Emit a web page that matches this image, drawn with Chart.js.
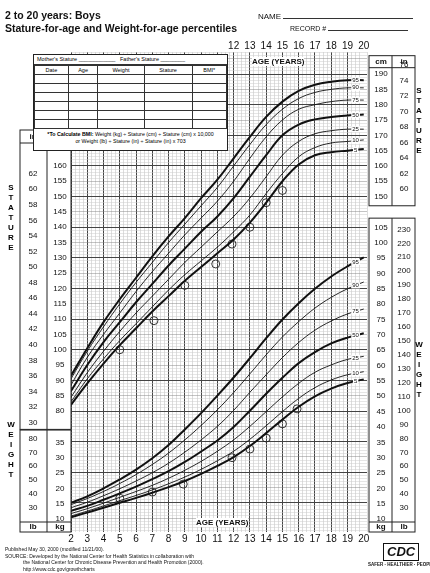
<!DOCTYPE html><html><head><meta charset="utf-8">
<script src="https://cdn.jsdelivr.net/npm/chart.js@4.4.0/dist/chart.umd.min.js"></script>
<style>
body{margin:0;width:430px;height:573px;overflow:hidden;background:#fff;font-family:"Liberation Sans",Arial,sans-serif;}
#wrap{position:absolute;left:0;top:0;width:430px;height:573px}
.t{position:absolute;white-space:nowrap;color:#111}
.box{position:absolute;left:33px;top:54px;width:193px;height:95px;background:#fff;border:1px solid #222;font-size:5.5px;overflow:hidden}
.box table{border-collapse:collapse;width:100%}
.box td{border:1px solid #333;height:8px;padding:0 1px;text-align:center}
.vert{position:absolute;font-weight:bold;font-size:8px;line-height:10px;width:10px;text-align:center}
</style></head><body>
<div id="wrap"><canvas id="c" width="430" height="573"></canvas></div>
<div class="t" style="left:5px;top:9px;font-size:10.5px;font-weight:bold">2 to 20 years: Boys</div>
<div class="t" style="left:5px;top:22px;font-size:10.5px;font-weight:bold">Stature-for-age and Weight-for-age percentiles</div>
<div class="t" style="left:258px;top:12px;font-size:8px">NAME <span style="display:inline-block;width:130px;border-bottom:1px solid #333"></span></div>
<div class="t" style="left:290px;top:25px;font-size:7px">RECORD # <span style="display:inline-block;width:80px;border-bottom:1px solid #333"></span></div>
<div class="box">
<div style="padding:1px 3px;height:7px;border-bottom:1px solid #333">Mother's Stature ____________ &nbsp; Father's Stature ________</div>
<table><tr><td>Date</td><td>Age</td><td>Weight</td><td>Stature</td><td>BMI*</td></tr>
<tr><td></td><td></td><td></td><td></td><td></td></tr><tr><td></td><td></td><td></td><td></td><td></td></tr>
<tr><td></td><td></td><td></td><td></td><td></td></tr><tr><td></td><td></td><td></td><td></td><td></td></tr>
<tr><td></td><td></td><td></td><td></td><td></td></tr><tr><td></td><td></td><td></td><td></td><td></td></tr>
</table>
<div style="font-size:5.3px;padding:2px 1px;text-align:center;line-height:7px"><b>*To Calculate BMI:</b> Weight (kg) ÷ Stature (cm) ÷ Stature (cm) x 10,000<br>or Weight (lb) ÷ Stature (in) ÷ Stature (in) x 703</div>
</div>
<div class="t" style="left:252px;top:57px;font-size:8px;font-weight:bold;background:#fff">AGE (YEARS)</div>
<div class="t" style="left:196px;top:518px;font-size:8px;font-weight:bold;background:#fff">AGE (YEARS)</div>
<div class="vert" style="left:6px;top:183px">S<br>T<br>A<br>T<br>U<br>R<br>E</div>
<div class="vert" style="left:6px;top:420px">W<br>E<br>I<br>G<br>H<br>T</div>
<div class="vert" style="left:414px;top:86px">S<br>T<br>A<br>T<br>U<br>R<br>E</div>
<div class="vert" style="left:414px;top:340px">W<br>E<br>I<br>G<br>H<br>T</div>
<div class="t" style="left:5px;top:546px;font-size:5px;line-height:6.5px">Published May 30, 2000 (modified 11/21/00).<br>SOURCE: Developed by the National Center for Health Statistics in collaboration with<br>&nbsp;&nbsp;&nbsp;&nbsp;&nbsp;&nbsp;&nbsp;&nbsp;&nbsp;&nbsp;&nbsp;&nbsp;&nbsp;the National Center for Chronic Disease Prevention and Health Promotion (2000).<br>&nbsp;&nbsp;&nbsp;&nbsp;&nbsp;&nbsp;&nbsp;&nbsp;&nbsp;&nbsp;&nbsp;&nbsp;&nbsp;http://www.cdc.gov/growthcharts</div>
<div class="t" style="left:383px;top:543px;font-size:13px;font-weight:bold;font-style:italic;border:1.5px solid #111;padding:0 3px;line-height:16px">CDC</div>
<div class="t" style="left:368px;top:562px;font-size:4.5px;font-weight:bold">SAFER · HEALTHIER · PEOPLE™</div>
<script>
const ages=[2,3,4,5,6,7,8,9,10,11,12,13,14,15,16,17,18,19,20];
const pctLabels=['5','10','25','50','75','90','95'];
const stature5=[82,89,95.5,101.5,107,112.5,117.5,122.5,127,131.5,136,141.5,148,155,160.5,163.5,164.5,165,165.5];
const stature10=[83,90.5,97,103,108.5,114,119.5,124.5,129,133.5,138.5,144,151,157.5,163,166,167.5,168,168.5];
const stature25=[84.5,92.5,99.5,106,112,117.5,123,128.5,133.5,138.5,143.5,149.5,156.5,163.5,168,170.5,171.5,172,172];
const stature50=[86.5,95,102.5,109,115.5,121.5,127.5,133,138.5,143.5,149.5,156.5,163.5,170,173.5,175.2,176,176.5,176.8];
const stature75=[88.5,97.5,105,112,119,125.5,131.5,137.5,143,148.5,155,162.5,169.5,175,178.5,180,181,181.5,181.5];
const stature90=[90.5,99.5,107.5,115,122,128.5,135,141,147,153,160,167,173.5,178.5,182,184,185,185.5,185.5];
const stature95=[91.5,100.5,109,116.5,123.5,130.5,137,143,149.5,155.5,162.5,169.5,176,181,184.5,186.5,187.5,188,188];
const weight5=[10.6,12.1,13.7,15.3,16.9,18.6,20.4,22.4,24.7,27.3,30.2,33.8,38,42.4,46.6,50,52.5,54.3,55.5];
const weight10=[11,12.6,14.3,16,17.7,19.5,21.5,23.7,26.2,29,32.1,36,40.4,45,49.3,52.8,55.3,57,58];
const weight25=[11.8,13.4,15.2,17.1,19,21,23.3,25.9,28.8,32.1,35.8,40.2,45,49.8,54.2,57.8,60.2,62,63];
const weight50=[12.7,14.3,16.3,18.4,20.6,23,25.6,28.6,32,35.6,40,45.3,50.8,56,60.8,64.4,67.2,69.1,70.5];
const weight75=[13.7,15.5,17.6,19.9,22.4,25.1,28.2,31.8,35.8,40.2,45.4,51.3,57,62.6,67.5,71.5,74.5,76.8,78.4];
const weight90=[14.7,16.7,19,21.6,24.5,27.8,31.5,35.8,40.5,45.6,51.2,57.3,63.5,69.3,74.3,78.7,82.2,85,87.2];
const weight95=[15.3,17.4,20,22.9,26.1,29.8,34.1,39.2,44.5,50.2,56.1,62.4,68.9,75,80.3,85,89,92.3,95.2];
const patientStatureAge=[5,7.1,9,10.9,11.9,13,14,15];
const patientStature=[100,109.5,121,128,134.5,140,148,152];
const patientWeightAge=[5,7,8.9,11.9,13,14,15,15.9];
const patientWeight=[16.8,18.8,21.4,30,32.8,36.4,41,45.9];
const statureTicksLeftCm=[80,85,90,95,100,105,110,115,120,125,130,135,140,145,150,155,160];
const statureTicksLeftIn=[30,32,34,36,38,40,42,44,46,48,50,52,54,56,58,60,62];
const statureTicksRightCm=[150,155,160,165,170,175,180,185,190];
const statureTicksRightIn=[60,62,64,66,68,70,72,74,76];
const weightTicksLeftKg=[10,15,20,25,30,35];
const weightTicksLeftLb=[30,40,50,60,70,80];
const weightTicksRightKg=[10,15,20,25,30,35,40,45,50,55,60,65,70,75,80,85,90,95,100,105];
const weightTicksRightLb=[30,40,50,60,70,80,90,100,110,120,130,140,150,160,170,180,190,200,210,220,230];
const topAges=[12,13,14,15,16,17,18,19,20];
const innerAges=[3,4,5,6,7,8,9,10,11];
const bottomAges=[2,3,4,5,6,7,8,9,10,11,12,13,14,15,16,17,18,19,20];

const st=[stature5,stature10,stature25,stature50,stature75,stature90,stature95];
const wt=[weight5,weight10,weight25,weight50,weight75,weight90,weight95];
const ds=[];
function curve(arr,axis,i){const bold=(i===0||i===3||i===6);
 return {type:'line',data:ages.map((a,k)=>({x:a,y:arr[k]})),yAxisID:axis,borderColor:'#111',borderWidth:bold?2:0.9,pointRadius:0,tension:0.4,fill:false,lbl:pctLabels[i]};}
st.forEach((a,i)=>ds.push(curve(a,'y',i)));
wt.forEach((a,i)=>ds.push(curve(a,'y2',i)));
ds.push({type:'scatter',data:patientStatureAge.map((a,k)=>({x:a,y:patientStature[k]})),yAxisID:'y',pointRadius:4,pointStyle:'circle',borderColor:'#222',borderWidth:0.9,backgroundColor:'rgba(0,0,0,0)'});
ds.push({type:'scatter',data:patientWeightAge.map((a,k)=>({x:a,y:patientWeight[k]})),yAxisID:'y2',pointRadius:4,borderColor:'#222',borderWidth:0.9,backgroundColor:'rgba(0,0,0,0)'});

const labelsPlugin={id:'lbls',afterDraw(ch){
 const c=ch.ctx,x=ch.scales.x,y=ch.scales.y,y2=ch.scales.y2,A=ch.chartArea;
 c.save();c.fillStyle='#111';c.textBaseline='middle';c.textAlign='center';
 c.font='8px "Liberation Sans"';
 const txt=(s,px,py)=>{const w=c.measureText(s).width;c.fillStyle='#fff';c.fillRect(px-w/2-1,py-4,w+2,8);c.fillStyle='#111';c.fillText(s,px,py);};
 c.fillStyle='#fff';c.fillRect(0,130,A.left,A.bottom-130);c.fillRect(A.right+1,A.top-8,430-A.right,A.bottom-A.top+8);c.fillStyle='#111';
 c.strokeStyle='#222';c.lineWidth=1;
 const sTop=130,sBot=y.getPixelForValue(74),wTop=y2.getPixelForValue(39),wBot=A.bottom;
 c.strokeRect(20,sTop,A.left-20,sBot-sTop);
 c.strokeRect(20,wTop,A.left-20,wBot-wTop);
 const rsT=y.getPixelForValue(196),rsB=y.getPixelForValue(147),rwT=y2.getPixelForValue(108);
 c.strokeRect(A.right+2,rsT,46,rsB-rsT);
 c.strokeRect(A.right+2,rwT,46,wBot-rwT);
 c.beginPath();c.moveTo(47,sTop);c.lineTo(47,sBot);c.moveTo(47,wTop);c.lineTo(47,wBot);
 c.moveTo(A.right+25,rsT);c.lineTo(A.right+25,rsB);c.moveTo(A.right+25,rwT);c.lineTo(A.right+25,wBot);
 c.moveTo(20,sTop+13);c.lineTo(A.left,sTop+13);c.moveTo(20,wBot-10);c.lineTo(A.left,wBot-10);
 c.moveTo(A.right+2,rsT+12);c.lineTo(A.right+48,rsT+12);c.moveTo(A.right+2,wBot-10);c.lineTo(A.right+48,wBot-10);c.stroke();
 statureTicksLeftCm.forEach(v=>c.fillText(v,60,y.getPixelForValue(v)));
 statureTicksLeftIn.forEach(v=>c.fillText(v,33,y.getPixelForValue(v*2.54)));
 statureTicksRightCm.forEach(v=>c.fillText(v,A.right+14,y.getPixelForValue(v)));
 statureTicksRightIn.forEach(v=>c.fillText(v,A.right+37,y.getPixelForValue(v*2.54)));
 weightTicksLeftKg.forEach(v=>c.fillText(v,60,y2.getPixelForValue(v)));
 weightTicksLeftLb.forEach(v=>c.fillText(v,33,y2.getPixelForValue(v/2.2046)));
 weightTicksRightKg.forEach(v=>c.fillText(v,A.right+14,y2.getPixelForValue(v)));
 weightTicksRightLb.forEach(v=>c.fillText(v,A.right+37,y2.getPixelForValue(v/2.2046)));
 c.font='bold 8px "Liberation Sans"';
 c.fillText('in',33,sTop+7);c.fillText('cm',60,sTop+7);
 c.fillText('cm',A.right+14,rsT+6);c.fillText('in',A.right+37,rsT+6);
 c.fillText('lb',33,wBot-5);c.fillText('kg',60,wBot-5);
 c.fillText('kg',A.right+14,wBot-5);c.fillText('lb',A.right+37,wBot-5);
 c.font='10px "Liberation Sans"';
 topAges.forEach(a=>c.fillText(a,x.getPixelForValue(a),46));
 bottomAges.forEach(a=>c.fillText(a,x.getPixelForValue(a),539));
 c.font='8px "Liberation Sans"';
 innerAges.forEach(a=>txt(String(a),x.getPixelForValue(a),137));
 c.font='6px "Liberation Sans"';
 ch.data.datasets.forEach((d,i)=>{if(!d.lbl)return;const sc=d.yAxisID==='y'?y:y2;const p=d.data[17];
   const px=x.getPixelForValue(19.5),py=sc.getPixelForValue(p.y+(d.data[18].y-p.y)*0.5);
   const w=c.measureText(d.lbl).width;c.fillStyle='#fff';c.fillRect(px-w/2-1,py-3,w+2,6);c.fillStyle='#111';c.fillText(d.lbl,px,py);});
 c.restore();}};

new Chart(document.getElementById('c'),{data:{datasets:ds},plugins:[labelsPlugin],
 options:{responsive:false,animation:false,events:[],
  layout:{padding:{left:71,right:63,top:52,bottom:41}},
  plugins:{legend:{display:false},tooltip:{enabled:false}},
  scales:{
   x:{type:'linear',min:2,max:20.2,border:{display:false},ticks:{display:false,stepSize:0.25},
      grid:{drawTicks:false,color:c=>{const v=c.tick.value;return Math.abs(v-Math.round(v))<1e-6?'#444':'#bbb';},lineWidth:c=>Math.abs(c.tick.value-Math.round(c.tick.value))<1e-6?1:0.5}},
   y:{type:'linear',min:40.5,max:197.2,border:{display:false},ticks:{display:false,stepSize:1},afterBuildTicks:s=>{s.ticks=[];for(let v=41;v<=197;v++)s.ticks.push({value:v});},
      grid:{drawTicks:false,color:c=>c.tick.value%10===0?'#444':(c.tick.value%5===0?'#888':'#ccc'),lineWidth:c=>c.tick.value%10===0?1:0.5}},
   y2:{type:'linear',min:5.8,max:162.1,display:false}
  }}});
</script></body></html>
